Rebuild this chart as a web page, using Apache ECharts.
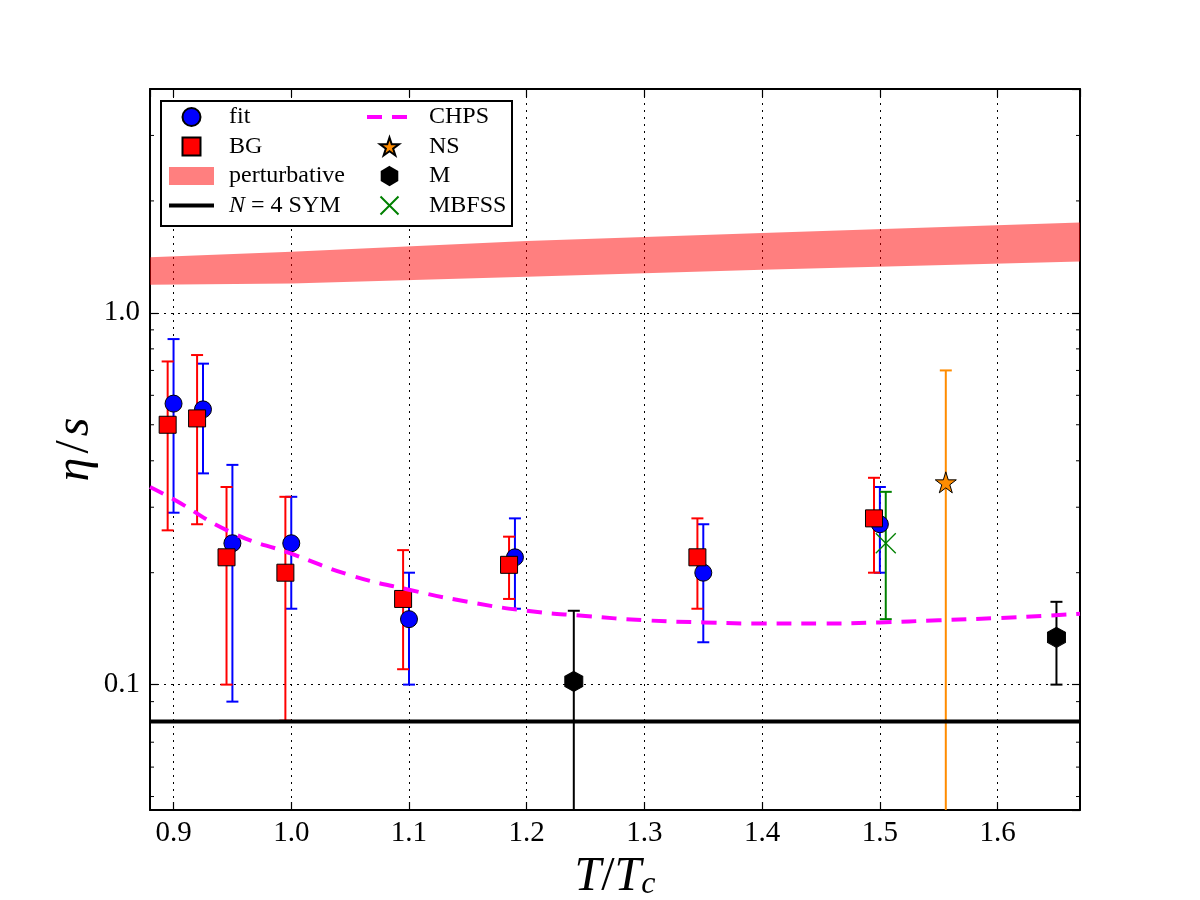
<!DOCTYPE html>
<html>
<head>
<meta charset="utf-8">
<script src="https://cdn.jsdelivr.net/npm/echarts@6/dist/echarts.min.js"></script>
<style>
html,body{margin:0;padding:0;background:#fff;}
#chart{width:1200px;height:900px;}
</style>
</head>
<body>
<div id="chart"></div>
<script>
// ---- data ----
const fitX  = [0.9, 0.925, 0.95, 1.0, 1.1, 1.19, 1.35, 1.5];
const fitY  = [0.57, 0.55, 0.24, 0.24, 0.15, 0.22, 0.20, 0.27];
const fitLo = [0.29, 0.37, 0.09, 0.16, 0.10, 0.16, 0.13, 0.20];
const fitHi = [0.85, 0.73, 0.39, 0.32, 0.20, 0.28, 0.27, 0.34];

const bgX  = [0.895, 0.92, 0.945, 0.995, 1.095, 1.185, 1.345, 1.495];
const bgY  = [0.50, 0.52, 0.22, 0.20, 0.17, 0.21, 0.22, 0.28];
const bgLo = [0.26, 0.27, 0.10, 0.08, 0.11, 0.17, 0.16, 0.20];
const bgHi = [0.74, 0.77, 0.34, 0.32, 0.23, 0.25, 0.28, 0.36];

const nsX  = [1.556];
const nsY  = [0.35];
const nsLo = [0.01];
const nsHi = [0.70];

const mX  = [1.24, 1.65];
const mY  = [0.102, 0.134];
const mLo = [0.02, 0.10];
const mHi = [0.158, 0.167];

const mbX  = [1.505];
const mbY  = [0.24];
const mbLo = [0.15];
const mbHi = [0.33];

const chpsX = [0.88, 0.9, 0.95, 1.0, 1.05, 1.1, 1.15, 1.2, 1.25, 1.3, 1.35, 1.4, 1.45, 1.5, 1.55, 1.6, 1.67];
const chpsY = [0.34, 0.315, 0.256, 0.225, 0.197, 0.180, 0.167, 0.158, 0.153, 0.149, 0.147, 0.146, 0.146, 0.147, 0.149, 0.151, 0.155];

const bandX  = [0.88, 1.0, 1.2, 1.4, 1.67];
const bandHi = [1.41, 1.46, 1.56, 1.64, 1.75];
const bandLo = [1.19, 1.20, 1.25, 1.305, 1.375];

const symX = [0.88, 1.67];
const symY = [1 / (4 * Math.PI), 1 / (4 * Math.PI)];

const yMinorTicks = [0.05, 0.06, 0.07, 0.08, 0.09, 0.2, 0.3, 0.4, 0.5, 0.6, 0.7, 0.8, 0.9, 2, 3, 4];

const X_MIN = 0.88, X_MAX = 1.67, Y_MIN = 0.046, Y_MAX = 4;

// ---- helpers ----
const FONT = 'Liberation Serif';
const zip3 = (a, b, c) => a.map((v, i) => [v, b[i], c[i]]);
const zip2 = (a, b) => a.map((v, i) => [v, b[i]]);

function errBar(color) {
  return function (params, api) {
    const x = api.value(0), lo = api.value(1), hi = api.value(2);
    const t = api.coord([x, hi]), b = api.coord([x, lo]);
    const c = 6;
    const st = { stroke: color, lineWidth: 2 };
    return {
      type: 'group',
      children: [
        { type: 'line', shape: { x1: t[0], y1: t[1], x2: b[0], y2: b[1] }, style: st },
        { type: 'line', shape: { x1: t[0] - c, y1: t[1], x2: t[0] + c, y2: t[1] }, style: st },
        { type: 'line', shape: { x1: b[0] - c, y1: b[1], x2: b[0] + c, y2: b[1] }, style: st }
      ]
    };
  };
}
function errSeries(name, x, lo, hi, color) {
  return {
    name: name, type: 'custom', clip: true, silent: true,
    renderItem: errBar(color),
    encode: { x: 0, y: [1, 2] },
    data: zip3(x, lo, hi), z: 2
  };
}

const STAR = 'path://M50,0 L61.2,34.5 L97.6,34.5 L68.2,55.9 L79.4,90.5 L50,69.1 L20.6,90.5 L31.8,55.9 L2.4,34.5 L38.8,34.5 Z';
const HEX = 'path://M50,0 L93.3,25 L93.3,75 L50,100 L6.7,75 L6.7,25 Z';
const SQUARE = 'path://M0,0 L100,0 L100,100 L0,100 Z';
const XMARK = 'path://M0,0 L100,100 M100,0 L0,100';
const NOSYM = { color: 'rgba(0,0,0,0)', borderColor: 'rgba(0,0,0,0)', borderWidth: 0, opacity: 0 };

const chart = echarts.init(document.getElementById('chart'));

const axisCommon = {
  axisLine: { show: true, onZero: false, lineStyle: { color: '#000', width: 2 } },
  axisTick: { show: true, inside: true, length: 8, lineStyle: { color: '#000', width: 1.2 } },
  minorTick: { show: false }
};

const legendText = (pad) => ({
  fontFamily: FONT, fontSize: 24, color: '#000', padding: [0, 0, 0, pad],
  rich: { i: { fontFamily: FONT, fontSize: 24, fontStyle: 'italic', color: '#000' } }
});

const option = {
  backgroundColor: '#fff',
  animation: false,
  grid: { left: 150, right: 120, top: 89, bottom: 90, containLabel: false, outerBoundsMode: 'none' },
  xAxis: [
    Object.assign({
      type: 'value', min: X_MIN, max: X_MAX, splitNumber: 8, position: 'bottom',
      name: '{i|T}/{i|T}{s|c}', nameLocation: 'middle', nameGap: 43, nameMoveOverlap: false,
      nameTextStyle: {
        fontFamily: FONT, fontSize: 48, color: '#000',
        rich: {
          i: { fontFamily: FONT, fontSize: 48, fontStyle: 'italic', color: '#000' },
          s: { fontFamily: FONT, fontSize: 32, fontStyle: 'italic', color: '#000', verticalAlign: 'bottom', padding: [10, 0, 0, 0] }
        }
      },
      axisLabel: {
        fontFamily: FONT, fontSize: 29, color: '#000', margin: 9,
        showMinLabel: false, showMaxLabel: false,
        formatter: v => v.toFixed(1)
      },
      splitLine: { show: true, lineStyle: { color: '#000', width: 1, type: [2, 5] } }
    }, axisCommon),
    Object.assign({
      type: 'value', min: X_MIN, max: X_MAX, splitNumber: 8, position: 'top',
      axisLabel: { show: false }, splitLine: { show: false }
    }, axisCommon)
  ],
  yAxis: [
    Object.assign({
      type: 'log', logBase: 10, min: Y_MIN, max: Y_MAX, position: 'left',
      name: '{i|η}\u200A/\u200A{i|s}', nameLocation: 'middle', nameGap: 51, nameMoveOverlap: false,
      nameTextStyle: {
        fontFamily: FONT, fontSize: 48, color: '#000',
        rich: { i: { fontFamily: FONT, fontSize: 48, fontStyle: 'italic', color: '#000' } }
      },
      axisLabel: {
        fontFamily: FONT, fontSize: 29, color: '#000', margin: 10,
        showMinLabel: false, showMaxLabel: false,
        formatter: v => Number(v).toFixed(1)
      },
      splitLine: { show: true, lineStyle: { color: '#000', width: 1, type: [2, 5] } }
    }, axisCommon),
    Object.assign({
      type: 'log', logBase: 10, min: Y_MIN, max: Y_MAX, position: 'right',
      axisLabel: { show: false }, splitLine: { show: false }
    }, axisCommon)
  ],
  legend: [
    {
      orient: 'vertical', left: 167, top: 105, padding: 0, itemWidth: 45, itemHeight: 18, itemGap: 5.5,
      symbolKeepAspect: true, z: 10,
      textStyle: legendText(10),
      formatter: n => n.indexOf('N = 4') === 0 ? '{i|N} = 4 SYM' : n,
      data: [
        { name: 'fit', icon: 'circle' },
        { name: 'BG', icon: SQUARE },
        { name: 'perturbative', icon: 'rect' },
        { name: 'N = 4 SYM', itemStyle: NOSYM, lineStyle: { color: '#000', width: 4, type: 'solid' } }
      ]
    },
    {
      orient: 'vertical', left: 365, top: 105, padding: 0, itemWidth: 45, itemHeight: 18, itemGap: 5.5,
      symbolKeepAspect: true, z: 10,
      textStyle: legendText(12),
      data: [
        { name: 'CHPS', itemStyle: NOSYM, lineStyle: { color: '#ff00ff', width: 4, type: [15, 10] } },
        { name: 'NS', icon: STAR },
        { name: 'M', icon: HEX },
        { name: 'MBFSS', icon: XMARK }
      ]
    }
  ],
  graphic: [
    {
      type: 'rect', z: 9, left: 160, top: 100,
      shape: { width: 351, height: 125 },
      style: { fill: '#fff', stroke: '#000', lineWidth: 2 }
    }
  ],
  series: [
    {
      name: 'perturbative', type: 'custom', clip: true, silent: true, z: 1,
      itemStyle: { color: 'rgba(255,0,0,0.5)' },
      encode: { x: 0, y: [1, 2] },
      data: zip3(bandX, bandLo, bandHi),
      renderItem: function (params, api) {
        if (params.dataIndex !== 0) return null;
        const pts = [];
        for (let i = 0; i < bandX.length; i++) pts.push(api.coord([bandX[i], bandHi[i]]));
        for (let i = bandX.length - 1; i >= 0; i--) pts.push(api.coord([bandX[i], bandLo[i]]));
        return { type: 'polygon', shape: { points: pts }, style: { fill: 'rgba(255,0,0,0.5)' } };
      }
    },
    {
      name: 'minorTicks', type: 'custom', silent: true, z: 3,
      data: yMinorTicks.map(v => [X_MIN, v]),
      encode: { x: 0, y: 1 },
      renderItem: function (params, api) {
        const v = api.value(1);
        const l = api.coord([X_MIN, v]), r = api.coord([X_MAX, v]);
        const st = { stroke: '#000', lineWidth: 1 };
        return {
          type: 'group', children: [
            { type: 'line', shape: { x1: l[0], y1: l[1], x2: l[0] + 4, y2: l[1] }, style: st },
            { type: 'line', shape: { x1: r[0] - 4, y1: r[1], x2: r[0], y2: r[1] }, style: st }
          ]
        };
      }
    },
    errSeries('fitErr', fitX, fitLo, fitHi, '#0000ff'),
    {
      name: 'fit', type: 'scatter', symbol: 'circle', symbolSize: 17, z: 3,
      itemStyle: { color: '#0000ff', borderColor: '#000', borderWidth: 1, opacity: 1 },
      data: zip2(fitX, fitY)
    },
    errSeries('bgErr', bgX, bgLo, bgHi, '#ff0000'),
    {
      name: 'BG', type: 'scatter', symbol: SQUARE, symbolSize: 17, z: 3,
      itemStyle: { color: '#ff0000', borderColor: '#000', borderWidth: 1, opacity: 1 },
      data: zip2(bgX, bgY)
    },
    errSeries('nsErr', nsX, nsLo, nsHi, '#ff8c00'),
    {
      name: 'NS', type: 'scatter', symbol: STAR, symbolSize: 21, z: 3,
      itemStyle: { color: '#ff8c00', borderColor: '#000', borderWidth: 1, opacity: 1 },
      data: zip2(nsX, nsY)
    },
    errSeries('mErr', mX, mLo, mHi, '#000000'),
    {
      name: 'M', type: 'scatter', symbol: HEX, symbolSize: [18, 20], z: 3,
      itemStyle: { color: '#000', borderColor: '#000', borderWidth: 1, opacity: 1 },
      data: zip2(mX, mY)
    },
    errSeries('mbErr', mbX, mbLo, mbHi, '#008000'),
    {
      name: 'MBFSS', type: 'scatter', symbol: XMARK, symbolSize: 20, z: 3,
      itemStyle: { color: 'none', borderColor: '#008000', borderWidth: 1.3, opacity: 1 },
      data: zip2(mbX, mbY)
    },
    {
      name: 'N = 4 SYM', type: 'line', symbol: 'none', showSymbol: false, z: 4,
      lineStyle: { color: '#000', width: 4 }, itemStyle: { color: '#000' },
      data: zip2(symX, symY)
    },
    {
      name: 'CHPS', type: 'line', symbol: 'none', showSymbol: false, smooth: true, z: 4,
      lineStyle: { color: '#ff00ff', width: 4, type: [15, 10] }, itemStyle: { color: '#ff00ff' },
      data: zip2(chpsX, chpsY)
    }
  ]
};
chart.setOption(option);
</script>
</body>
</html>
